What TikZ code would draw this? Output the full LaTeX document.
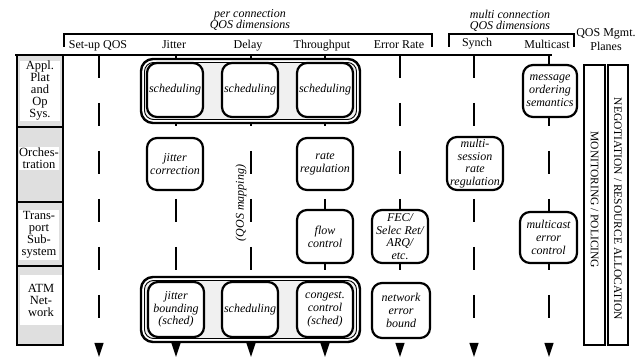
\documentclass[tikz,border=0pt]{standalone}
\usepackage{fontspec}
\setmainfont{Liberation Serif}
\begin{document}
\begin{tikzpicture}[x=1pt,y=-1pt,
  hdr/.style={line width=2.6pt},
  colline/.style={line width=2.3pt, dash pattern=on 23pt off 25pt},
  fbox/.style={draw, line width=2.2pt, rounded corners=10pt, fill=white,
    minimum width=56pt, minimum height=53pt, inner sep=0pt, align=center,
    font=\fontsize{12}{12.8}\selectfont\itshape},
  grpouter/.style={draw, line width=2.4pt, rounded corners=12pt, fill=white},
  grpinner/.style={draw, line width=0.9pt, rounded corners=9pt, fill=gray!12},
  hlabel/.style={anchor=base, font=\fontsize{12}{13}\selectfont, inner sep=0pt},
  dimlabel/.style={align=center, font=\fontsize{12}{11}\selectfont\itshape, inner sep=0pt},
  layerlabel/.style={fill=white, align=center, inner sep=0pt, minimum width=40pt,
    font=\fontsize{12.5}{12}\selectfont},
  planetext/.style={rotate=-90, font=\fontsize{11.5}{12}\selectfont, inner sep=0pt}
]
\useasboundingbox (0,0) rectangle (641,358);

% column coordinates
\foreach \n/\x in {1/99,2/176,3/251,4/325,5/400,6/474,7/549}{
  \coordinate (t\n) at (\x,55);
  \coordinate (b\n) at (\x,343);
}
% dashed columns
\foreach \n in {1,...,7}{
  \draw[colline] (t\n) -- (b\n);
  \fill (b\n) ++(-4.6,0) -- ++(9.2,0) -- ++(-4.6,14) -- cycle;
}

% header brackets and lines
\draw[hdr] (64,47) -- (64,34) -- (432,34) -- (432,47);
\draw[hdr] (449,47) -- (449,34) -- (574,34) -- (574,47);
\draw[hdr] (15,55) -- (552,55);

\node[dimlabel] (perconn) at (250,20.5) {per connection\\QOS dimensions};
\node[dimlabel] (multiconn) at (510,20.5) {multi connection\\QOS dimensions};

\node[hlabel] (hsetup) at (98,49) {Set-up QOS};
\node[hlabel] (hjitter) at (174,49) {Jitter};
\node[hlabel] (hdelay) at (248,49) {Delay};
\node[hlabel] (hthru) at (322,49) {Throughput};
\node[hlabel] (herr) at (399,49) {Error Rate};
\node[hlabel] (hsynch) at (477,47) {Synch};
\node[hlabel] (hmcast) at (547,49) {Multicast};
\node[hlabel] (hqos) at (606,37) {QOS Mgmt.};
\node[hlabel] (hplanes) at (606,51) {Planes};

% left layer column
\draw[line width=2.2pt, fill=gray!25] (17,55) rectangle (63,345);
\draw[line width=2.2pt] (17,127) -- (63,127);
\draw[line width=2.2pt] (17,202) -- (63,202);
\draw[line width=2.2pt] (17,266) -- (63,266);
\node[layerlabel, minimum height=58pt] (lappl) at (40,91) {Appl.\\Plat\\and\\Op\\Sys.};
\node[layerlabel, minimum height=23pt] (lorch) at (39,158.5) {Orches-\\tration};
\node[layerlabel, minimum height=50pt] (ltrans) at (39,235) {Trans-\\port\\Sub-\\system};
\node[layerlabel, minimum height=50pt, minimum width=42pt] (latm) at (41,300) {ATM\\Net-\\work};

% group boxes
\draw[grpouter] (141,59) rectangle (360,123);
\draw[grpinner] (144.5,62.5) rectangle (356.5,119.5);
\draw[grpouter] (141,277) rectangle (360,342);
\draw[grpinner] (144.5,280.5) rectangle (356.5,338.5);

% function boxes
\node[fbox, minimum height=54pt] (s1) at (175,90) {scheduling};
\node[fbox, minimum height=54pt] (s2) at (250,90) {scheduling};
\node[fbox, minimum height=54pt] (s3) at (325,90) {scheduling};
\node[fbox, minimum width=54pt, minimum height=52pt] (mos) at (550,91) {message\\ordering\\semantics};

\node[fbox, minimum height=52pt] (jc) at (175,164) {jitter\\correction};
\node[fbox, minimum height=52pt] (rr) at (325,164) {rate\\regulation};
\node[fbox, minimum height=53pt, font=\fontsize{12}{12.5}\selectfont\itshape] (msr) at (475,163.5) {multi-\\session\\rate\\regulation};

\node[fbox] (fc) at (325,236.5) {flow\\control};
\node[fbox, font=\fontsize{12}{12.5}\selectfont\itshape] (fec) at (400,236.5) {FEC/\\Selec Ret/\\ARQ/\\etc.};
\node[fbox, minimum width=57pt, minimum height=51pt] (mec) at (548.5,237.5) {multicast\\error\\control};

\node[fbox, minimum height=55pt] (jb) at (176,309.5) {jitter\\bounding\\(sched)};
\node[fbox, minimum height=55pt] (s4) at (250,309.5) {scheduling};
\node[fbox, minimum height=55pt] (cc) at (325,309.5) {congest.\\control\\(sched)};
\node[fbox, minimum width=58pt, minimum height=55pt] (neb) at (401,310.5) {network\\error\\bound};

% QOS mapping
\node[rotate=90, font=\fontsize{12}{12}\selectfont\itshape, inner sep=0pt] (qmap) at (241,203) {(QOS mapping)};

% management planes
\draw[line width=2pt] (584,65) rectangle (605,345);
\draw[line width=2pt] (607.5,65) rectangle (628,345);
\node[planetext] (mon) at (594.5,200) {MONITORING / POLICING};
\node[planetext] (neg) at (617.8,209) {NEGOTIATION / RESOURCE ALLOCATION};
\end{tikzpicture}
\end{document}
